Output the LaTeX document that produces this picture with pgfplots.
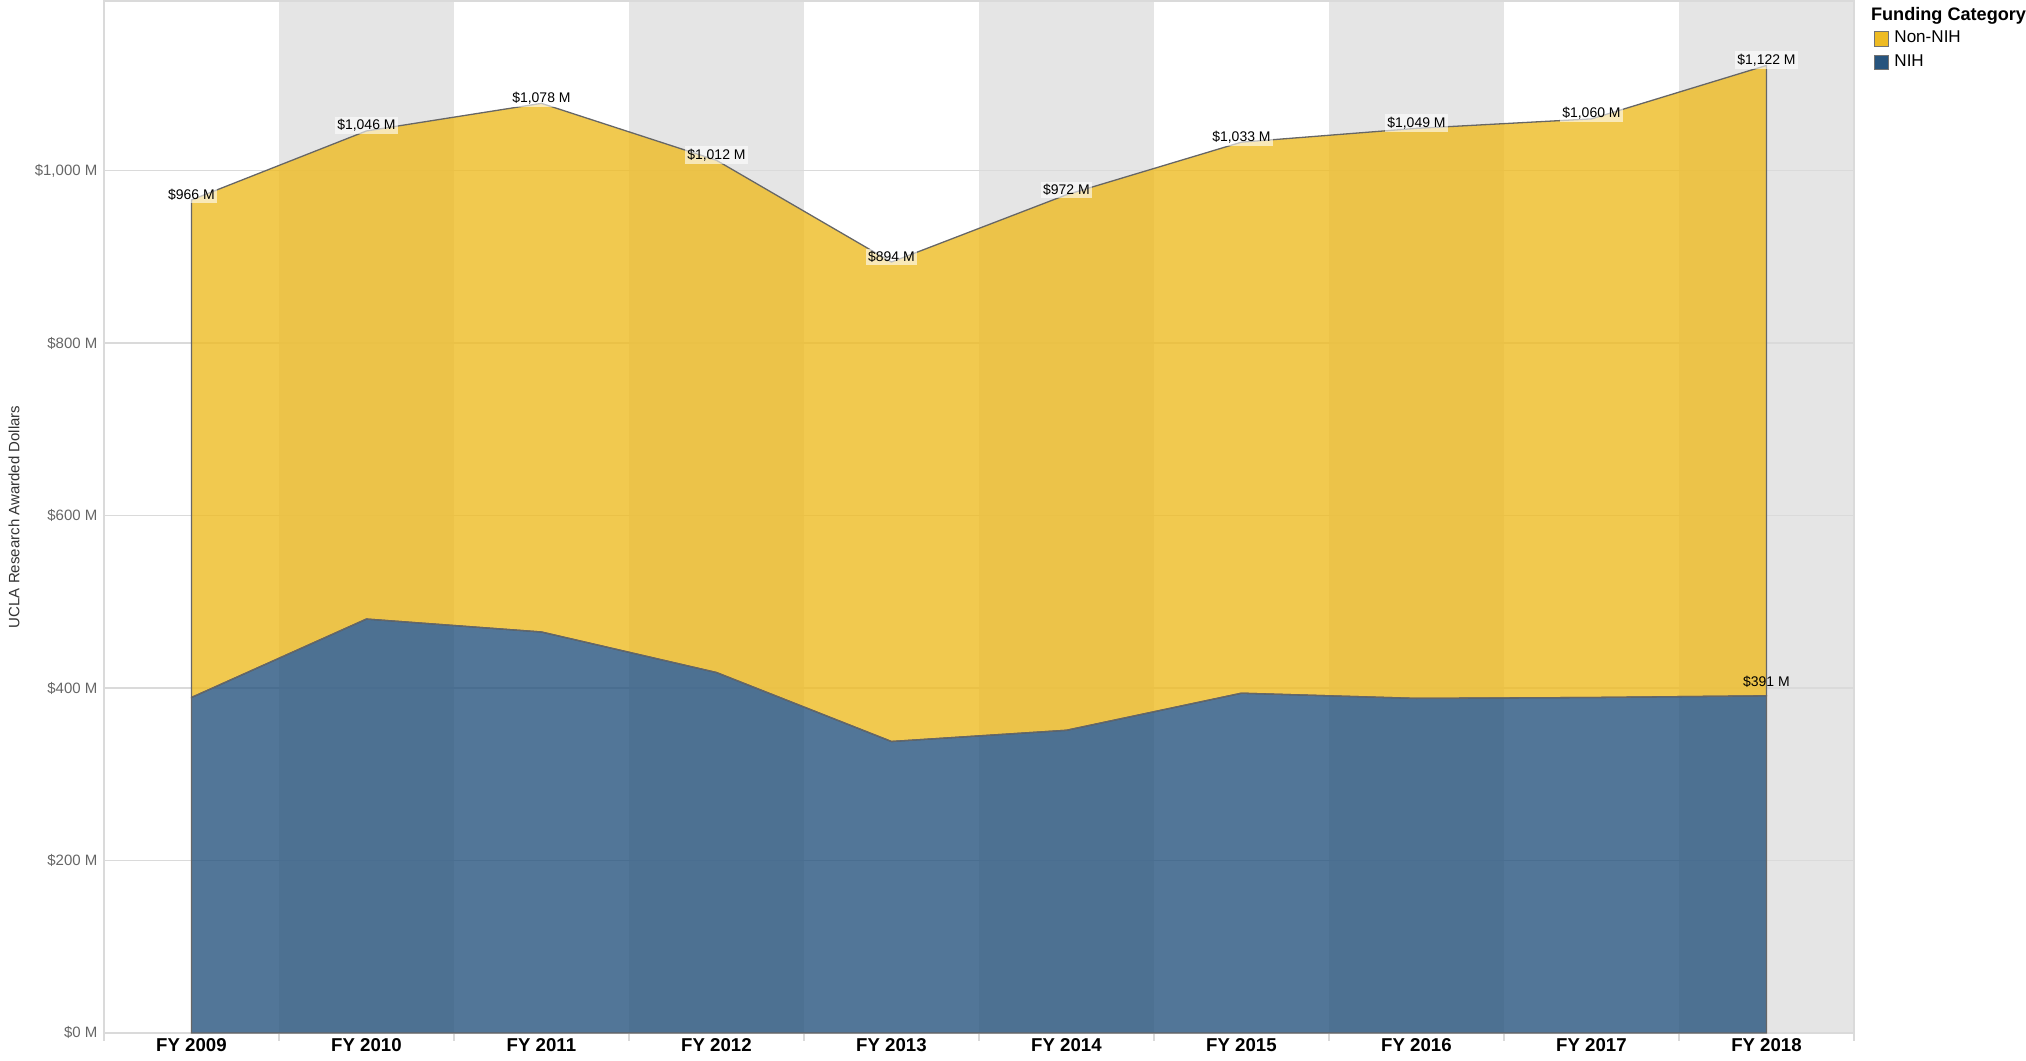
\documentclass[border=0pt]{standalone}
\usepackage{fontspec}
\setmainfont{Liberation Sans}
\usepackage{pgfplots}
\pgfplotsset{compat=1.18}

\definecolor{nihblue}{HTML}{27547E}
\definecolor{nonyellow}{HTML}{EEBB23}
\definecolor{bandgray}{HTML}{E5E5E5}
\definecolor{gridgray}{HTML}{DADADA}
\definecolor{ticktext}{HTML}{666666}

\pgfplotsset{
  ucla/.style={
    scale only axis,
    width=676.5pt, height=399pt,
    xmin=-0.5, xmax=9.5,
    ymin=0, ymax=1197,
  }
}

\begin{document}
\begin{tikzpicture}
% background: alternating bands and horizontal grid lines
\begin{axis}[ucla, hide axis]
\pgfplotsinvokeforeach{1,3,5,7,9}{
  \fill[bandgray] (axis cs:#1-0.5,0) rectangle (axis cs:#1+0.5,1197);
}
\pgfplotsinvokeforeach{200,400,600,800,1000}{
  \draw[gridgray, line width=0.5pt] (axis cs:-0.5,#1) -- (axis cs:9.5,#1);
}
\end{axis}

\begin{axis}[
    ucla,
    clip=false,
    stack plots=y,
    xtick pos=bottom, ytick pos=left,
    xtick={0,...,9},
    xticklabels={FY 2009,FY 2010,FY 2011,FY 2012,FY 2013,FY 2014,FY 2015,FY 2016,FY 2017,FY 2018},
    xticklabel style={font=\fontsize{7.2}{8}\selectfont\bfseries, black, yshift=1.5pt},
    major tick length=0pt,
    minor xtick={-0.5,0.5,...,9.5},
    minor x tick style={gridgray, line width=0.6pt},
    minor tick length=3pt,
    tick align=outside,
    ytick={0,200,...,1000},
    yticklabels={\$0 M,\$200 M,\$400 M,\$600 M,\$800 M,\$1{,}000 M},
    yticklabel style={font=\fontsize{5.8}{7}\selectfont, ticktext, xshift=1pt},
    axis line style={gridgray, line width=0.6pt},
    ylabel={UCLA Research Awarded Dollars},
    ylabel style={font=\fontsize{5.8}{7}\selectfont, black!80, yshift=-1pt},
    legend style={at={(1.011,0.976)}, anchor=north west, draw=none, fill=none,
        font=\fontsize{6.6}{8}\selectfont, row sep=-1pt, inner sep=0pt},
    legend cell align=left,
    reverse legend,
    legend image code/.code={\draw[#1, fill opacity=1, draw=black!55, line width=0.4pt] (0pt,-2.8pt) rectangle (5.6pt,2.8pt);},
    every node near coord/.append style={font=\fontsize{5.4}{6}\selectfont, black,
        fill=white, fill opacity=0.6, text opacity=1, inner sep=1pt, anchor=south},
]
% NIH (bottom)
\addplot[fill=nihblue, fill opacity=0.8, draw=black!60, line width=0.5pt] coordinates {
  (0,389) (1,480) (2,465) (3,418) (4,338) (5,351) (6,394) (7,388) (8,389) (9,391)
} \closedcycle;
\addlegendentry{NIH}

% Non-NIH (stacked on top)
\addplot[fill=nonyellow, fill opacity=0.8, draw=black!60, line width=0.5pt] coordinates {
  (0,577) (1,566) (2,613) (3,594) (4,556) (5,621) (6,639) (7,661) (8,671) (9,731)
} \closedcycle;
\addlegendentry{Non-NIH}

% total labels
\addplot[stack plots=false, draw=none, forget plot, nodes near coords,
  point meta=explicit symbolic, every node near coord/.append style={yshift=-1.5pt}] coordinates {
  (0,966) [\$966 M] (1,1046) [\$1{,}046 M] (2,1078) [\$1{,}078 M] (3,1012) [\$1{,}012 M]
  (4,894) [\$894 M] (5,972) [\$972 M] (6,1033) [\$1{,}033 M] (7,1049) [\$1{,}049 M]
  (8,1060) [\$1{,}060 M] (9,1122) [\$1{,}122 M]
};
\addplot[stack plots=false, draw=none, forget plot, nodes near coords,
  point meta=explicit symbolic, every node near coord/.append style={fill=none, yshift=2pt}] coordinates {
  (9,391) [\$391 M]
};

\node[anchor=north west, font=\fontsize{7}{8}\selectfont\bfseries, inner sep=0pt]
  at (rel axis cs:1.0095,0.994) {Funding Category};
\end{axis}
\end{tikzpicture}
\end{document}
